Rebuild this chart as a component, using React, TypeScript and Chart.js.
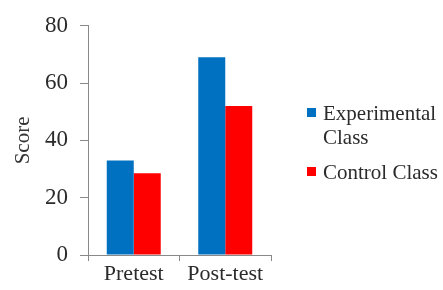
import React, { useEffect, useRef } from "react";
import { Chart, registerables } from "chart.js";

Chart.register(...registerables);

const categories = ["Pretest", "Post-test"];
const seriesNames = ["Experimental Class", "Control Class"];
const experimental = [33, 69];
const control = [28.5, 52];
const colors = ["#0070C0", "#FF0000"];
const yTicks = [0, 20, 40, 60, 80];

const FONT = "'Liberation Serif', 'Times New Roman', serif";

export default function App() {
  const ref = useRef<HTMLCanvasElement | null>(null);

  useEffect(() => {
    document.body.style.margin = "0";
    const canvas = ref.current;
    if (!canvas) return;
    const chart = new Chart(canvas, {
      type: "bar",
      data: {
        labels: categories,
        datasets: [
          { label: seriesNames[0], data: experimental, backgroundColor: colors[0] },
          { label: seriesNames[1], data: control, backgroundColor: colors[1] },
        ],
      },
      options: {
        animation: false,
        responsive: false,
        maintainAspectRatio: false,
        devicePixelRatio: 1,
        layout: { padding: { top: 24, right: 172, left: 0, bottom: 0 } },
        plugins: { legend: { display: false }, tooltip: { enabled: false } },
        datasets: { bar: { barPercentage: 1, categoryPercentage: 0.59 } },
        scales: {
          x: {
            grid: {
              display: true,
              drawOnChartArea: false,
              drawTicks: true,
              tickLength: 6,
              offset: true,
              color: "#898989",
              tickColor: "#898989",
            },
            border: { display: true, color: "#898989", width: 1 },
            ticks: { font: { family: FONT, size: 22 }, color: "#2b2b2b", padding: 0, maxRotation: 0 },
            afterFit: (s: any) => {
              s.height = 35;
            },
          },
          y: {
            min: 0,
            max: 80,
            ticks: { stepSize: 20, font: { family: FONT, size: 23 }, color: "#2b2b2b", padding: 12 },
            grid: {
              display: true,
              drawOnChartArea: false,
              drawTicks: true,
              tickLength: 8,
              lineWidth: 1,
              color: "#898989",
              tickColor: "#898989",
            },
            border: { display: true, color: "#898989", width: 1 },
            title: {
              display: true,
              text: "Score",
              font: { family: FONT, size: 21 },
              color: "#333333",
              padding: { top: 11, bottom: 0 },
            },
            afterBuildTicks: (s: any) => {
              s.ticks = yTicks.map((v) => ({ value: v }));
            },
            afterFit: (s: any) => {
              s.width = 88;
            },
          },
        },
      },
    });
    return () => chart.destroy();
  }, []);

  const legendText: React.CSSProperties = {
    fontFamily: FONT,
    fontSize: 21,
    color: "#2b2b2b",
    lineHeight: "24px",
  };

  return (
    <div style={{ position: "relative", width: 443, height: 290, background: "#fff" }}>
      <canvas ref={ref} width={443} height={290} style={{ display: "block" }} />
      <div style={{ position: "absolute", left: 307, top: 101 }}>
        <div style={{ display: "flex", alignItems: "flex-start" }}>
          <div style={{ width: 9, height: 9, background: colors[0], marginTop: 7, marginRight: 7 }} />
          <div style={{ ...legendText, width: 120 }}>{seriesNames[0]}</div>
        </div>
        <div style={{ display: "flex", alignItems: "flex-start", marginTop: 11 }}>
          <div style={{ width: 9, height: 9, background: colors[1], marginTop: 7, marginRight: 7 }} />
          <div style={{ ...legendText, whiteSpace: "nowrap" }}>{seriesNames[1]}</div>
        </div>
      </div>
    </div>
  );
}
